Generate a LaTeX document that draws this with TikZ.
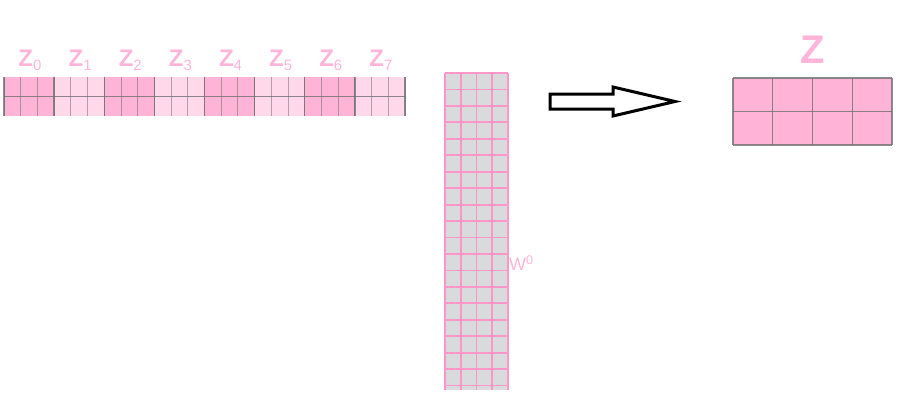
\documentclass[tikz,border=0pt]{standalone}
\usepackage{fontspec}
\setmainfont{Liberation Sans}

\definecolor{pinkdark}{HTML}{FFB3D6}
\definecolor{pinklight}{HTML}{FFD9EA}
\definecolor{pinklabel}{HTML}{FFB5D9}
\definecolor{gridpink}{HTML}{FF96C9}
\definecolor{cellgrey}{HTML}{D9DADC}
\definecolor{linegrey}{HTML}{707070}

\newcommand{\zsub}[1]{\raisebox{-4pt}{\fontsize{15}{15}\selectfont\mdseries #1}}

\begin{document}
\begin{tikzpicture}[x=1pt, y=-1pt,
    zlabel/.style={text=pinklabel, font=\fontsize{24}{24}\selectfont\bfseries, inner sep=0pt},
    cellline/.style={linegrey, line width=0.9pt, opacity=0.55},
    groupline/.style={linegrey, line width=1.3pt, opacity=0.8}]
    \useasboundingbox (0,0) rectangle (913,407);

    % input rows Z_0 ... Z_7
    \foreach \g in {0,...,7} {
        \ifodd\g \def\zcol{pinklight}\else \def\zcol{pinkdark}\fi
        \fill[\zcol] ({4+\g*50.125},77) rectangle ++(50.125,39);
        \node[zlabel] (z\g) at ({30+\g*50.125},60) {Z\zsub{\g}};
    }
    \foreach \i in {0,...,24}
        \draw[cellline] ({4+\i*16.708},77) -- ++(0,39);
    \foreach \g in {0,...,8}
        \draw[groupline] ({4+\g*50.125},77) -- ++(0,39);
    \draw[groupline] (4,96.5) -- (405,96.5);

    % weight matrix W^0
    \fill[cellgrey] (445,73) rectangle (508,390);
    \foreach \r in {0,...,19}
        \draw[gridpink, line width=1.8pt] (445,{73+\r*16.45}) -- (508,{73+\r*16.45});
    \foreach \c in {0,...,4}
        \draw[gridpink, line width=1.8pt] ({445+\c*15.75},73) -- ({445+\c*15.75},390);
    \node[text=pinklabel, font=\fontsize{18}{18}\selectfont, anchor=west, inner sep=0pt]
        (w0) at (509,263) {W\textsuperscript{0}};

    % block arrow
    \draw[line width=3pt, line join=miter]
        (550,94) -- (613,94) -- (613,87) -- (675,101.5) -- (613,116) -- (613,109) -- (550,109) -- cycle;

    % output Z
    \fill[pinkdark] (733,78) rectangle (892,145);
    \foreach \c in {0,...,4}
        \draw[groupline] ({733+\c*39.75},78) -- ({733+\c*39.75},145);
    \foreach \r in {0,...,2}
        \draw[groupline] (733,{78+\r*33.5}) -- (892,{78+\r*33.5});
    \node[text=pinklabel, font=\fontsize{40}{40}\selectfont\bfseries, inner sep=0pt]
        (z) at (813,50) {Z};
\end{tikzpicture}
\end{document}
